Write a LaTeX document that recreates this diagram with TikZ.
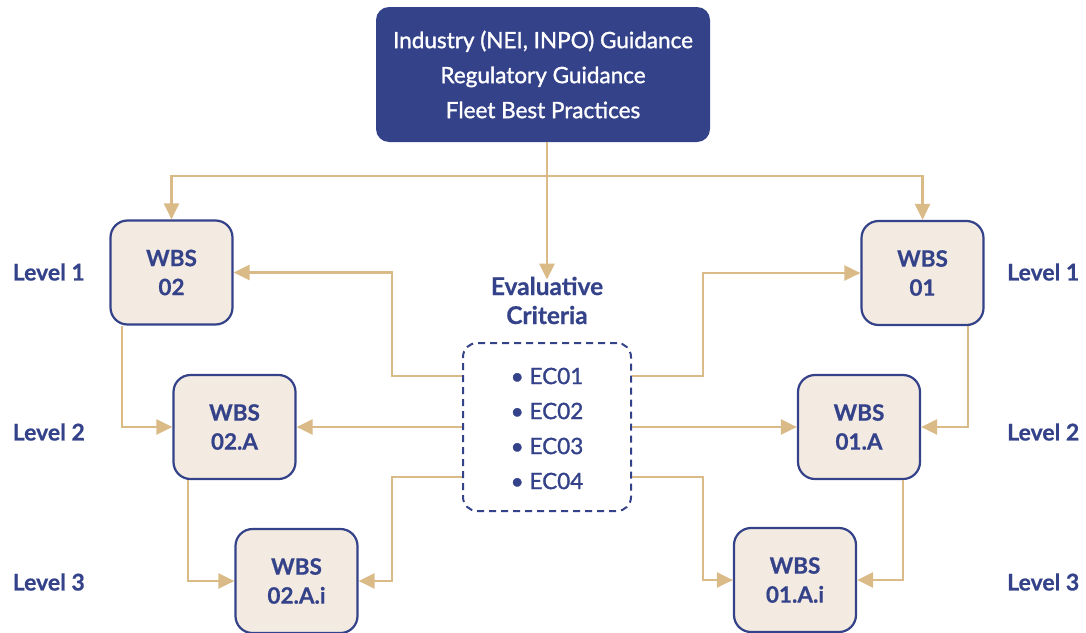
\documentclass[tikz,border=0pt]{standalone}
\usepackage{fontspec}
\setmainfont{Lato}[BoldFeatures={FakeBold=0.6}]
\newfontfamily\medfont{Lato}[FakeBold=1.3]
\usetikzlibrary{arrows.meta,calc}
\definecolor{navy}{HTML}{344289}
\definecolor{beige}{HTML}{F3EBE1}
\definecolor{tan}{HTML}{DABB88}
\begin{document}
\begin{tikzpicture}[x=1pt,y=-1pt,
  wbs/.style={draw=navy,line width=2.2pt,fill=beige,rounded corners=17pt,minimum width=122pt,minimum height=104pt,inner sep=0pt,align=center,text=navy,font=\fontsize{22.5}{29}\selectfont\bfseries},
  topbox/.style={fill=navy,rounded corners=13pt,minimum width=334pt,minimum height=135pt,inner sep=0pt,align=center,text=white,font=\fontsize{22.5}{35}\selectfont\medfont},
  lvl/.style={text=navy,font=\fontsize{23}{26}\selectfont\bfseries,inner sep=0pt},
  ecitem/.style={text=navy,font=\fontsize{22.5}{26}\selectfont\medfont,inner sep=0pt},
  conn/.style={draw=tan,line width=2.4pt},
  arr/.style={conn,-{Triangle[length=16pt,width=15pt]}}]
\useasboundingbox (0,0) rectangle (1086,632);
% top box
\node[topbox] (top) at (543,74.5) {Industry (NEI, INPO) Guidance\\Regulatory Guidance\\Fleet Best Practices};
% WBS boxes
\node[wbs] (w02) at (171.5,272.5) {WBS\\02};
\node[wbs] (w02a) at (234.5,427) {WBS\\02.A};
\node[wbs] (w02ai) at (296.5,581) {WBS\\02.A.i};
\node[wbs] (w01) at (922.5,273) {WBS\\01};
\node[wbs] (w01a) at (859,427) {WBS\\01.A};
\node[wbs] (w01ai) at (795,580) {WBS\\01.A.i};
% evaluative criteria
\node[text=navy,align=center,inner sep=0pt,font=\fontsize{24.5}{29}\selectfont\bfseries] (title) at (547,300.5) {Evaluative\\Criteria};
\node[draw=navy,dashed,line width=2pt,dash pattern=on 7pt off 5pt,rounded corners=14pt,minimum width=168pt,minimum height=168pt] (ec) at (547,427) {};
\node[ecitem] (ec1) at (547,376) {• EC01};
\node[ecitem] (ec2) at (547,411) {• EC02};
\node[ecitem] (ec3) at (547,446) {• EC03};
\node[ecitem] (ec4) at (547,481) {• EC04};
% levels
\node[lvl,anchor=east] (l1) at (85,272) {Level 1};
\node[lvl,anchor=east] (l2) at (85,432) {Level 2};
\node[lvl,anchor=east] (l3) at (85,582) {Level 3};
\node[lvl,anchor=west] (r1) at (1007,272) {Level 1};
\node[lvl,anchor=west] (r2) at (1007,432) {Level 2};
\node[lvl,anchor=west] (r3) at (1007,582) {Level 3};
% helper coordinates
\coordinate (hb) at (547,176);
\coordinate (lx) at (392,0);
\coordinate (rx) at (703,0);
\coordinate (e1) at (0,376);
\coordinate (e3) at (0,477);
% connectors from top
\draw[arr] (top.south -| hb) -- ([yshift=-3pt]title.north);
\draw[arr] (hb) -| (w02.north);
\draw[arr] (hb) -| (w01.north);
% left side from EC
\draw[arr] (ec.west |- e1) -| (lx |- w02.east) -- (w02.east);
\draw[arr] (ec.west) -- (w02a.east);
\draw[arr] (ec.west |- e3) -| (lx |- w02ai.east) -- (w02ai.east);
% right side from EC
\draw[arr] (ec.east |- e1) -| (rx |- w01.west) -- (w01.west);
\draw[arr] (ec.east) -- (w01a.west);
\draw[arr] (ec.east |- e3) -| (rx |- w01ai.west) -- (w01ai.west);
% hierarchy connectors
\coordinate (a1) at (122,0);
\coordinate (a2) at (188,0);
\coordinate (b1) at (968,0);
\coordinate (b2) at (903,0);
\draw[arr] (a1 |- w02.south) |- (w02a.west);
\draw[arr] (a2 |- w02a.south) |- (w02ai.west);
\draw[arr] (b1 |- w01.south) |- (w01a.east);
\draw[arr] (b2 |- w01a.south) |- (w01ai.east);
\end{tikzpicture}
\end{document}
